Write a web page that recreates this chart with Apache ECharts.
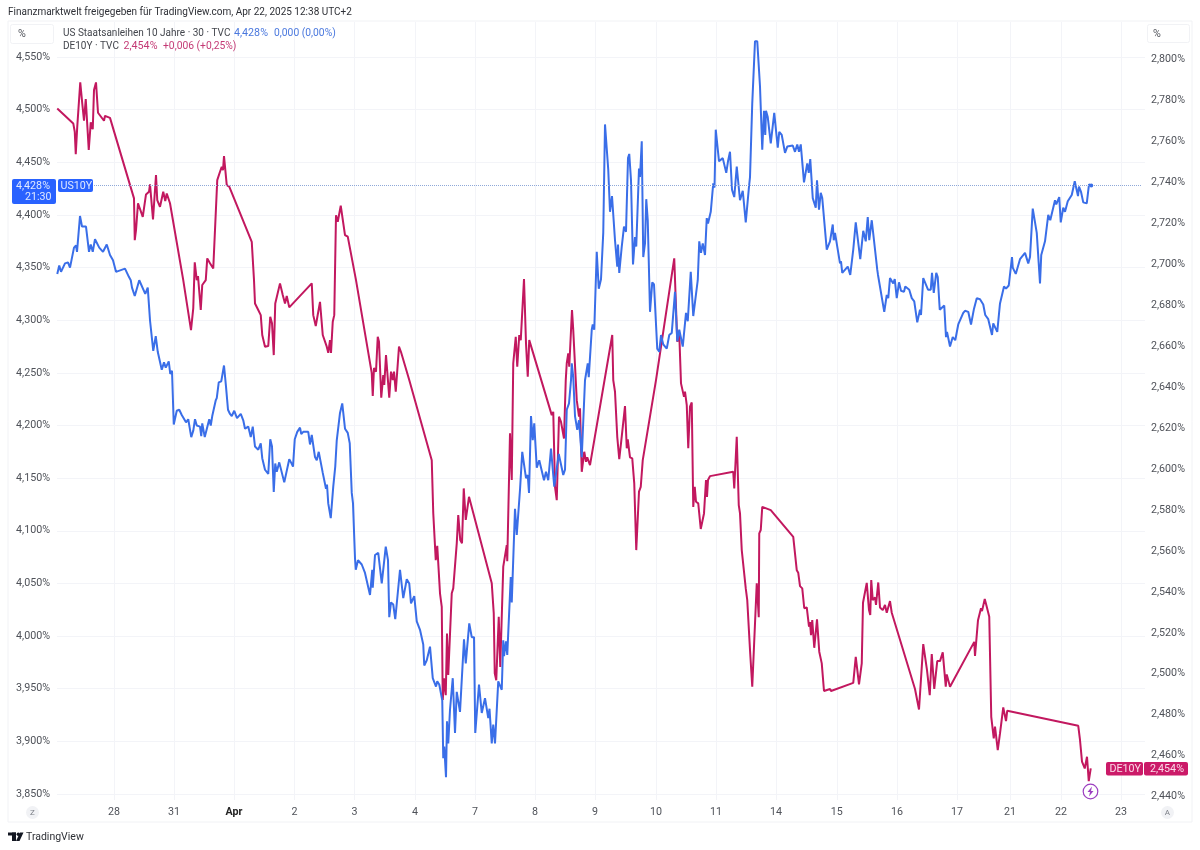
<!DOCTYPE html>
<html><head><meta charset="utf-8">
<script src="https://cdn.jsdelivr.net/npm/echarts@6/dist/echarts.min.js"></script>
<style>html,body{margin:0;padding:0;background:#fff}#c{width:1200px;height:850px}</style></head>
<body><div id="c"></div>
<script>
// x = session hours since the start of the window, y = yield in %
const us10y = [[0.1,4.344],[0.9,4.352],[1.6,4.346],[3.2,4.354],[4.4,4.355],[5.2,4.35],[6.8,4.369],[7.6,4.371],[8,4.365],[9.2,4.399],[10,4.389],[11.6,4.389],[12.8,4.365],[13.5,4.372],[14.3,4.365],[15.2,4.377],[15.9,4.376],[16.9,4.369],[18.4,4.365],[19.9,4.372],[21.2,4.362],[22.4,4.357],[23.6,4.346],[27.2,4.349],[28.8,4.341],[29.5,4.338],[30,4.331],[31.1,4.323],[32.9,4.338],[35.3,4.325],[36.3,4.331],[37.2,4.3],[38.5,4.271],[39.5,4.285],[40.3,4.27],[41.9,4.253],[42.8,4.26],[43.5,4.255],[44.7,4.261],[45.3,4.249],[46,4.252],[46.7,4.201],[47.3,4.202],[47.9,4.214],[48.9,4.215],[49.9,4.21],[50.5,4.21],[51.6,4.203],[52.5,4.206],[53.7,4.189],[54.5,4.195],[55.2,4.206],[55.9,4.2],[57.2,4.199],[57.7,4.19],[58.1,4.202],[59.1,4.189],[60.9,4.206],[61.5,4.2],[62.1,4.209],[62.8,4.21],[63.5,4.224],[63.9,4.226],[64.7,4.241],[65.7,4.242],[66.8,4.257],[67.6,4.237],[68.4,4.215],[69.2,4.211],[69.9,4.209],[70.9,4.214],[72,4.207],[73.5,4.211],[74.5,4.205],[75.2,4.197],[76.5,4.199],[77.5,4.189],[78.3,4.199],[79.2,4.18],[80.5,4.177],[81.5,4.183],[82.1,4.169],[83.2,4.158],[84.5,4.154],[85.3,4.187],[86,4.18],[86.7,4.137],[87.3,4.164],[87.9,4.156],[88.9,4.165],[89.6,4.164],[90.9,4.146],[92.9,4.168],[93.6,4.165],[94.4,4.161],[95.1,4.187],[96.1,4.194],[97.2,4.198],[97.7,4.192],[98.5,4.194],[100.5,4.194],[101.2,4.182],[101.9,4.191],[103.2,4.17],[103.9,4.167],[104.7,4.175],[105.2,4.174],[106.3,4.155],[107.6,4.14],[108,4.144],[108.5,4.126],[109.5,4.112],[110.5,4.142],[111.3,4.161],[111.9,4.186],[112.4,4.187],[113.2,4.212],[114.1,4.221],[115.2,4.197],[116.3,4.193],[117.1,4.183],[117.9,4.136],[118.4,4.126],[119.2,4.074],[119.5,4.063],[120.4,4.072],[121.9,4.068],[123.2,4.06],[124,4.061],[125.2,4.039],[126.1,4.063],[126.3,4.046],[127.2,4.077],[128.5,4.079],[129.9,4.05],[131.5,4.085],[132.4,4.072],[132.9,4.018],[133.6,4.032],[134.5,4.03],[135.3,4.016],[137.2,4.063],[138.5,4.036],[139.9,4.054],[140.9,4.05],[141.6,4.031],[142.9,4.038],[143.9,4.014],[145.2,4.006],[146.5,3.992],[146.9,3.972],[147.9,3.977],[149.2,3.99],[150.3,3.96],[151.6,3.952],[152.1,3.957],[152.9,3.954],[154.1,3.939],[154.5,3.884],[154.9,3.895],[155.6,3.866],[156,3.919],[156.5,3.898],[157.2,3.93],[158.3,3.96],[159.2,3.908],[159.9,3.947],[161.2,3.928],[162.8,3.997],[163.5,3.974],[164.9,4.012],[165.9,3.999],[166.8,3.999],[167.3,3.908],[168.8,3.954],[169.9,3.927],[171.2,3.941],[172.5,3.922],[173,3.931],[173.9,3.898],[174.5,3.916],[175.2,3.898],[176.5,3.957],[177.9,3.949],[178.5,3.996],[178.8,3.981],[179.6,3.995],[180.1,3.982],[181.5,4.056],[181.9,4.032],[183.2,4.121],[183.9,4.096],[185.2,4.139],[186.1,4.175],[187.6,4.15],[188.3,4.153],[188.8,4.136],[189.6,4.209],[190.3,4.186],[190.9,4.202],[191.9,4.16],[192.9,4.167],[194.8,4.148],[195.6,4.156],[196.5,4.148],[197.6,4.178],[198.9,4.142],[200.7,4.173],[202.5,4.153],[203.2,4.158],[203.9,4.215],[204.8,4.221],[205.6,4.243],[205.9,4.259],[206.5,4.246],[207.2,4.209],[208.1,4.196],[208.8,4.205],[209.9,4.17],[211.2,4.243],[212.3,4.259],[212.7,4.246],[213.9,4.291],[214.3,4.296],[214.9,4.291],[215.9,4.365],[216.7,4.33],[217.6,4.339],[218.5,4.383],[219.2,4.486],[220.5,4.443],[221.2,4.403],[222,4.418],[223.2,4.376],[224.1,4.351],[224.4,4.372],[224.9,4.345],[225.9,4.37],[226.8,4.389],[227.6,4.384],[228.4,4.454],[228.9,4.458],[229.6,4.433],[230.4,4.353],[231.2,4.379],[231.7,4.37],[232.8,4.444],[233.2,4.436],[233.9,4.47],[234.5,4.36],[235.2,4.373],[235.7,4.415],[236.3,4.395],[237.2,4.308],[238.1,4.336],[238.8,4.334],[240.1,4.273],[240.9,4.27],[241.6,4.286],[242.5,4.277],[243.9,4.273],[244.9,4.286],[245.9,4.288],[247.2,4.327],[248.1,4.28],[248.9,4.291],[250.3,4.275],[251.6,4.307],[252.3,4.299],[253.5,4.346],[254.5,4.304],[255.2,4.305],[256.3,4.338],[256.9,4.375],[257.6,4.364],[258.3,4.373],[259.2,4.362],[259.9,4.397],[260.4,4.392],[261.5,4.403],[262.5,4.43],[263,4.426],[263.5,4.481],[264,4.48],[264.8,4.451],[265.6,4.45],[266.3,4.454],[267.1,4.454],[267.7,4.44],[268.4,4.451],[268.8,4.45],[269.2,4.46],[270,4.424],[270.9,4.417],[271.9,4.446],[273.2,4.414],[273.7,4.413],[274.3,4.423],[275.5,4.393],[276.8,4.427],[277.2,4.436],[278.1,4.506],[279.2,4.565],[280.1,4.565],[281.2,4.522],[282.1,4.462],[282.8,4.499],[283.3,4.476],[283.6,4.499],[284.3,4.493],[285.5,4.468],[286.9,4.497],[288.3,4.464],[288.9,4.479],[289.9,4.476],[291.2,4.459],[292.1,4.465],[294.3,4.466],[295.2,4.46],[296.1,4.467],[296.8,4.46],[297.5,4.467],[298.8,4.431],[300.1,4.449],[300.7,4.44],[301.3,4.453],[302.3,4.416],[303.5,4.407],[304,4.433],[304.8,4.405],[305.5,4.421],[306.1,4.416],[307.9,4.367],[308.5,4.366],[309.2,4.375],[310,4.376],[310.3,4.391],[310.7,4.376],[311.2,4.383],[312,4.383],[313.2,4.354],[313.6,4.356],[314.1,4.345],[316.3,4.351],[317.3,4.343],[318.5,4.367],[319.5,4.393],[321.3,4.358],[322.5,4.385],[323.5,4.375],[324.3,4.398],[324.9,4.376],[325.9,4.395],[328.1,4.348],[328.4,4.343],[330.9,4.308],[331.9,4.324],[332.5,4.321],[333.2,4.34],[334,4.34],[334.5,4.335],[335.1,4.339],[335.9,4.321],[336.8,4.336],[337.6,4.328],[338.8,4.327],[339.3,4.332],[340.9,4.329],[341.9,4.321],[342.9,4.318],[344.1,4.298],[345.2,4.31],[345.6,4.305],[346.5,4.34],[347.2,4.34],[348.4,4.329],[349.5,4.329],[350,4.345],[350.7,4.326],[351.7,4.345],[352.3,4.341],[353.1,4.31],[354.9,4.314],[355.6,4.284],[356,4.289],[357.2,4.275],[358.3,4.284],[359.3,4.281],[360.5,4.296],[362.5,4.307],[363.2,4.309],[364.5,4.308],[365.6,4.296],[366.8,4.311],[367.9,4.321],[369.2,4.32],[370.5,4.315],[371.3,4.305],[372.5,4.301],[374,4.286],[374.5,4.297],[376.1,4.289],[377.2,4.316],[378.1,4.325],[378.8,4.332],[379.6,4.33],[380.7,4.333],[382,4.36],[382.3,4.35],[383.5,4.344],[385.2,4.358],[387.2,4.364],[388.5,4.354],[389.2,4.36],[390.3,4.406],[391.9,4.383],[393.2,4.335],[393.7,4.362],[395.2,4.375],[396.5,4.4],[397.3,4.395],[399.2,4.414],[399.7,4.41],[400.9,4.417],[401.5,4.393],[402.5,4.407],[403.2,4.403],[404.3,4.413],[405.9,4.419],[407.1,4.432],[408.4,4.418],[408.8,4.427],[409.6,4.422],[410.5,4.412],[411.9,4.411],[412.8,4.429],[413.7,4.428]];
const de10y = [[0.1,2.776],[6.5,2.7687],[7.1,2.7646],[7.5,2.7537],[8.1,2.7671],[9.3,2.7887],[10.1,2.7785],[10.8,2.77],[11.5,2.7806],[12.7,2.7557],[13.5,2.7692],[14.3,2.7658],[14.8,2.785],[15.6,2.7887],[16.4,2.7739],[18.8,2.77],[19.2,2.7724],[21.2,2.7714],[30.8,2.7321],[31.1,2.7117],[31.6,2.7166],[32.4,2.7297],[33.2,2.7304],[34.3,2.7231],[34.8,2.7228],[35.6,2.734],[36.8,2.7353],[37.2,2.7389],[38.4,2.7218],[39.6,2.7435],[40.1,2.7313],[41.2,2.728],[42.5,2.7353],[43.3,2.7308],[43.9,2.7345],[45.2,2.7297],[50.5,2.6922],[53.6,2.6678],[54.5,2.6784],[55.1,2.7009],[55.9,2.6922],[56.4,2.6942],[57.5,2.6776],[58.1,2.6898],[58.8,2.6889],[59.5,2.6922],[60.1,2.7028],[61.2,2.7004],[62.5,2.6979],[64.1,2.741],[65.2,2.7451],[65.9,2.7475],[66.4,2.7459],[66.8,2.7527],[67.9,2.7386],[68.9,2.7378],[77.9,2.7109],[78.5,2.7106],[78.8,2.6922],[79.2,2.6808],[80.5,2.6776],[81.5,2.6751],[82.1,2.6654],[83.2,2.6597],[84.5,2.66],[85.3,2.6743],[86,2.6711],[86.7,2.6556],[87.3,2.6808],[89.2,2.6906],[90.3,2.6849],[91.2,2.6808],[91.9,2.6844],[92.9,2.6789],[101.9,2.6906],[102.5,2.6751],[103.5,2.6698],[105.2,2.6816],[106.3,2.6654],[107.9,2.6597],[108.5,2.6567],[109.2,2.6629],[109.6,2.6567],[110.3,2.6719],[110.9,2.6751],[111.6,2.7239],[112.3,2.7207],[113.5,2.7285],[115.2,2.7142],[116.3,2.7134],[119.6,2.6922],[125.9,2.6468],[126.3,2.6356],[126.8,2.6493],[127.6,2.6475],[128.3,2.6645],[128.8,2.6621],[129.7,2.6348],[130.5,2.6458],[130.9,2.641],[131.6,2.6556],[132.1,2.6556],[132.9,2.6348],[133.6,2.6475],[134.3,2.6434],[134.8,2.6475],[135.5,2.6377],[136.8,2.6597],[137.6,2.6571],[140.9,2.6434],[149.9,2.6043],[150.5,2.5785],[151.5,2.5555],[152.1,2.5625],[153.2,2.5393],[153.9,2.5327],[154.3,2.4872],[154.8,2.4978],[155.5,2.4896],[156,2.5197],[156.5,2.4994],[157.9,2.5393],[158.5,2.5417],[159.2,2.5417],[159.9,2.5637],[160.5,2.5775],[161.3,2.5653],[162,2.5637],[162.7,2.5905],[163.5,2.5751],[164.8,2.5864],[173.9,2.5442],[174.7,2.5295],[175.1,2.5002],[175.7,2.4969],[176.7,2.5278],[177.3,2.5034],[178.5,2.5523],[179.2,2.5523],[179.9,2.5628],[180.1,2.555],[181.2,2.6174],[181.9,2.5946],[182.5,2.6516],[183.5,2.6645],[184.1,2.6499],[184.9,2.6654],[185.5,2.6629],[186.8,2.6927],[187.6,2.6613],[188.3,2.645],[188.9,2.6629],[197.9,2.6263],[198.5,2.6279],[199.2,2.5913],[199.9,2.5848],[200.8,2.6255],[201.6,2.623],[202.1,2.623],[202.8,2.6149],[203.5,2.6434],[203.9,2.6516],[204.5,2.6564],[204.9,2.6499],[206,2.6776],[206.5,2.6678],[207.2,2.6678],[207.9,2.6336],[208.8,2.6255],[209.2,2.6296],[209.9,2.5986],[210.9,2.6084],[211.6,2.6035],[212.1,2.6057],[213.2,2.6019],[222.1,2.6654],[222.5,2.6434],[223.2,2.6377],[224.1,2.6157],[224.9,2.6048],[225.6,2.6125],[226.3,2.6133],[227.2,2.6307],[227.9,2.6101],[228.3,2.6145],[229.2,2.6057],[230.1,2.6052],[230.9,2.593],[231.7,2.5604],[232.8,2.5889],[233.5,2.5913],[234.3,2.6043],[239.6,2.6434],[246.9,2.7028],[248.1,2.6621],[248.9,2.6662],[249.6,2.6418],[250.8,2.6352],[251.2,2.6377],[251.9,2.6312],[252.5,2.6101],[253.2,2.6304],[253.9,2.6325],[254.5,2.5815],[255.1,2.5913],[255.6,2.584],[256.5,2.5832],[257.5,2.5707],[258.8,2.5783],[259.6,2.5946],[260,2.5864],[260.4,2.5946],[261.2,2.5965],[270.5,2.5986],[270.9,2.5905],[271.9,2.6157],[272.7,2.5824],[273.2,2.5783],[273.9,2.5604],[274.5,2.5599],[275.5,2.5417],[276.1,2.536],[277.2,2.5116],[278.1,2.4937],[279.9,2.5442],[280.4,2.5449],[280.7,2.5276],[280.9,2.5686],[281.5,2.5702],[282.1,2.5815],[285.5,2.5799],[294.5,2.5669],[295.9,2.5506],[296.5,2.5493],[297.2,2.5428],[298.1,2.5417],[298.9,2.532],[299.9,2.5324],[300.8,2.523],[301.2,2.5253],[301.6,2.5189],[302.1,2.5262],[302.9,2.5127],[304,2.5266],[304.9,2.5108],[305.5,2.5105],[305.9,2.5051],[306.8,2.4916],[309.2,2.4926],[309.6,2.4916],[318.5,2.4956],[319.5,2.5083],[320.8,2.4948],[321.9,2.5051],[322.4,2.5347],[322.9,2.5347],[323.9,2.5444],[324.4,2.5449],[324.8,2.5311],[325.3,2.5287],[325.7,2.5458],[326.3,2.536],[327.2,2.5373],[327.6,2.5336],[328.5,2.5446],[329.2,2.5324],[330.3,2.5311],[331.2,2.5336],[331.9,2.5298],[333.2,2.5355],[333.9,2.5298],[343.2,2.4926],[343.9,2.4921],[344.8,2.4826],[346.5,2.5145],[347.2,2.5145],[348,2.5018],[349.1,2.4896],[349.9,2.5096],[350.9,2.4926],[352.1,2.5062],[353.2,2.5062],[354.3,2.5105],[355.1,2.51],[355.5,2.4937],[355.9,2.4997],[357.2,2.4937],[366.9,2.5156],[367.2,2.5087],[368.4,2.5262],[369.6,2.532],[370,2.5306],[371.1,2.5365],[371.9,2.5327],[372.9,2.5279],[373.7,2.479],[374.7,2.4685],[375.2,2.4742],[376.3,2.4628],[377.2,2.4709],[378.5,2.4836],[379.6,2.4769],[380.1,2.482],[408.5,2.4746],[409.2,2.4677],[410,2.4571],[411.1,2.4538],[411.6,2.4545],[412,2.4595],[412.7,2.4476],[413.5,2.4538]];
const xTickLabels = ['28','31','Apr','2','3','4','7','8','9','10','11','14','15','16','17','21','22','23'];
const xTickHours = [22.8,46.8,70.8,95,119,143.2,167.2,191.2,215.2,239.6,263.6,287.6,311.9,336,360,381.2,401.6,425.6];
const leftTicks = [3.85,3.9,3.95,4.0,4.05,4.1,4.15,4.2,4.25,4.3,4.35,4.4,4.45,4.5,4.55];
const rightTicks = [2.44,2.46,2.48,2.5,2.52,2.54,2.56,2.58,2.6,2.62,2.64,2.66,2.68,2.7,2.72,2.74,2.76,2.78,2.8];
const lastUS = 4.428, lastDE = 2.454;

const BLUE='#3a6ee8', PINK='#c2185f', GRID='#f3f4f8', TXT='#4f5259';
const FONT='Roboto, "Noto Sans", sans-serif', FS=10.7, FS2=10;
const pct = v => v.toFixed(3).replace('.',',')+'%';
const txt = (x,y,t,fill,size,extra) => ({type:'text',x,y,silent:true,z:50,style:Object.assign({text:t,fill,font:(size||FS)+'px '+FONT,textVerticalAlign:'middle'},extra||{})});
const box = (x,y,w,h,fill,r) => ({type:'rect',silent:true,z:49,shape:{x,y,width:w,height:h,r:r||2},style:{fill}});

const chart = echarts.init(document.getElementById('c'),null,{renderer:'canvas'});
chart.setOption({
  animation:false,
  backgroundColor:'#fff',
  grid:{left:57,top:22,width:1088,height:778,containLabel:false},
  xAxis:{type:'value',min:0,max:435.2,
    axisLine:{show:false},
    axisTick:{show:false,customValues:xTickHours},
    splitLine:{show:true,lineStyle:{color:GRID,width:1}},
    axisLabel:{customValues:xTickHours,margin:7,color:TXT,fontSize:FS,fontFamily:FONT,
      rich:{b:{fontWeight:'bold',color:'#222',fontSize:FS,fontFamily:FONT}},
      formatter:v=>{const s=xTickLabels[xTickHours.indexOf(v)];return s==='Apr'?'{b|Apr}':s;}}
  },
  yAxis:[
    {type:'value',position:'left',min:3.8443,max:4.5833,
      axisLine:{show:false},
      axisTick:{show:false,customValues:leftTicks},
      splitLine:{show:true,lineStyle:{color:GRID,width:1}},
      axisLabel:{customValues:leftTicks,margin:7,color:TXT,fontSize:FS,fontFamily:FONT,padding:[2,0,0,0],formatter:pct}},
    {type:'value',position:'right',min:2.4384,max:2.8182,
      axisLine:{show:false},
      axisTick:{show:false,customValues:rightTicks},
      splitLine:{show:false},
      axisLabel:{customValues:rightTicks,margin:6,color:TXT,fontSize:FS,fontFamily:FONT,padding:[2,0,0,0],formatter:pct}}
  ],
  series:[
    {name:'DE10Y',type:'line',yAxisIndex:1,data:de10y,showSymbol:false,symbol:'none',smooth:false,
      lineStyle:{color:PINK,width:2},z:3},
    {name:'US10Y',type:'line',yAxisIndex:0,data:us10y,showSymbol:false,symbol:'none',smooth:false,
      lineStyle:{color:BLUE,width:2},z:4,
      markLine:{silent:true,symbol:'none',label:{show:false},animation:false,
        lineStyle:{color:'#8fa8d8',type:'dotted',width:1},
        data:[[{coord:[14.8,lastUS]},{coord:[434,lastUS]}]]},
      markPoint:{silent:true,symbol:'circle',symbolSize:4,itemStyle:{color:BLUE},label:{show:false},
        data:[{coord:[413.7,lastUS]}]}}
  ],
  graphic:{elements:[
    {type:'rect',silent:true,z:1,shape:{x:8,y:21,width:1184,height:801},style:{fill:'none',stroke:'#f1f2f5',lineWidth:1}},
    txt(8,12,'Finanzmarktwelt freigegeben für TradingView.com, Apr 22, 2025 12:38 UTC+2','#2e3036',FS2),
    {type:'rect',silent:true,z:2,shape:{x:10.5,y:24.5,width:43,height:19,r:2},style:{fill:'#fff',stroke:'#f1f2f5'}},
    txt(18,34,'%',TXT),
    {type:'rect',silent:true,z:2,shape:{x:1147.5,y:24.5,width:42,height:18,r:2},style:{fill:'#fff',stroke:'#f1f2f5'}},
    txt(1153,34,'%',TXT),
    txt(63,33,'US Staatsanleihen 10 Jahre · 30 · TVC','#43464d',FS2),
    txt(234,33,'4,428%','#4a78de'),
    txt(274,33,'0,000 (0,00%)','#4a78de',FS2+0.3),
    txt(63,46,'DE10Y · TVC','#43464d',FS2),
    txt(123.5,46,'2,454%','#c43a75'),
    txt(163,46,'+0,006 (+0,25%)','#c43a75',FS2+0.3),
    box(12,179,44,25,'#2962ff',2),
    txt(16,186,'4,428%','#dfe8ff'),
    txt(25,197,'21:30','#dfe8ff'),
    box(58,179,35,13,'#2962ff',2),
    txt(60.5,186,'US10Y','#dfe8ff'),
    box(1106,762,37,13.5,'#cb1a68',2),
    txt(1109.5,769,'DE10Y','#fbdbe9'),
    box(1144,762,44,13.5,'#cb1a68',2),
    txt(1150,769,'2,454%','#fbdbe9'),
    {type:'circle',silent:true,z:50,shape:{cx:1090.5,cy:791.5,r:7.3},style:{fill:'#fff',stroke:'#9c3fc0',lineWidth:1.2}},
    {type:'polygon',silent:true,z:51,shape:{points:[[1092,786.5],[1087.5,792],[1090,792],[1089,796.5],[1093.5,791],[1091,791]]},style:{fill:'#9c3fc0'}},
    {type:'circle',silent:true,z:50,shape:{cx:32.5,cy:812.5,r:6.5},style:{fill:'#f1f2f5'}},
    txt(30,812.5,'Z','#7a7d85',8),
    {type:'circle',silent:true,z:50,shape:{cx:1167.5,cy:812.5,r:6.5},style:{fill:'#f1f2f5'}},
    txt(1164.8,812.5,'A','#7a7d85',8),
    {type:'rect',silent:true,z:50,shape:{x:8,y:832.5,width:8,height:3},style:{fill:'#131722'}},
    {type:'rect',silent:true,z:50,shape:{x:12,y:832.5,width:4,height:8.5},style:{fill:'#131722'}},
    {type:'circle',silent:true,z:50,shape:{cx:18.3,cy:834.2,r:1.7},style:{fill:'#131722'}},
    {type:'polygon',silent:true,z:50,shape:{points:[[20,832.5],[23.5,832.5],[19.5,841],[16,841]]},style:{fill:'#131722'}},
    txt(26,837,'TradingView','#2e3036',10.5)
  ]}
});
</script></body></html>
